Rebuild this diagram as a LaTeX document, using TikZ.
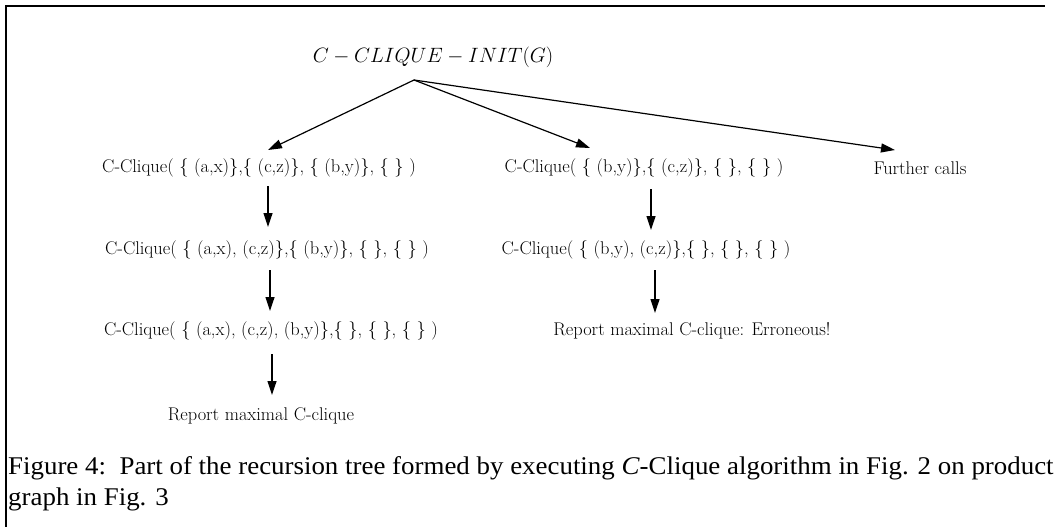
\documentclass[tikz,border=0pt]{standalone}
\usepackage{fontspec}
\newfontfamily\capfont[FakeStretch=1.055]{Liberation Serif}
\usetikzlibrary{arrows.meta}
\begin{document}
\begin{tikzpicture}[x=1pt,y=-1pt,
  lbl/.style={inner sep=0pt,font=\fontsize{18.4}{22}\selectfont},
  arr/.style={line width=1.2pt,-{Triangle[length=14pt,width=9pt]}},
  captext/.style={inner sep=0pt,anchor=base west,font=\capfont\fontsize{25.5}{30}\selectfont}]
\useasboundingbox (0,0) rectangle (1055,527);
\draw[line width=2.8pt] (6,527) -- (6,6) -- (1045,6);
\node[lbl,font=\fontsize{19.3}{23}\selectfont] (root) at (433,57) {$C - CLIQUE - INIT(G)$};
\coordinate (rs) at (414,80);
\node[lbl] (a1) at (259,168) {C-Clique( \{ (a,x)\},\{ (c,z)\}, \{ (b,y)\}, \{ \} )};
\node[lbl] (a2) at (267,250) {C-Clique( \{ (a,x), (c,z)\},\{ (b,y)\}, \{ \}, \{ \} )};
\node[lbl] (a3) at (271,331) {C-Clique( \{ (a,x), (c,z), (b,y)\},\{ \}, \{ \}, \{ \} )};
\node[lbl] (a4) at (261,416) {Report maximal C-clique};
\node[lbl] (b1) at (644,168) {C-Clique( \{ (b,y)\},\{ (c,z)\}, \{ \}, \{ \} )};
\node[lbl] (b2) at (646,250) {C-Clique( \{ (b,y), (c,z)\},\{ \}, \{ \}, \{ \} )};
\node[lbl] (b3) at (692,331) {Report maximal C-clique: Erroneous!};
\node[lbl] (c1) at (920,168) {Further calls};
\draw[arr] (rs) -- (268,150);
\draw[arr] (rs) -- (590,148);
\draw[arr] (rs) -- (895,150);
\draw[arr] (268,186) -- (268,227);
\draw[arr] (270,270) -- (270,311);
\draw[arr] (272,354) -- (272,395);
\draw[arr] (651,189) -- (651,230);
\draw[arr] (655,270) -- (655,313);
\node[captext] (cap1) at (8,474) {Figure 4:\ \ Part of the recursion tree formed by executing \textit{C}-Clique algorithm in Fig. 2 on product};
\node[captext] (cap2) at (8,505) {graph in Fig. 3};
\end{tikzpicture}
\end{document}
